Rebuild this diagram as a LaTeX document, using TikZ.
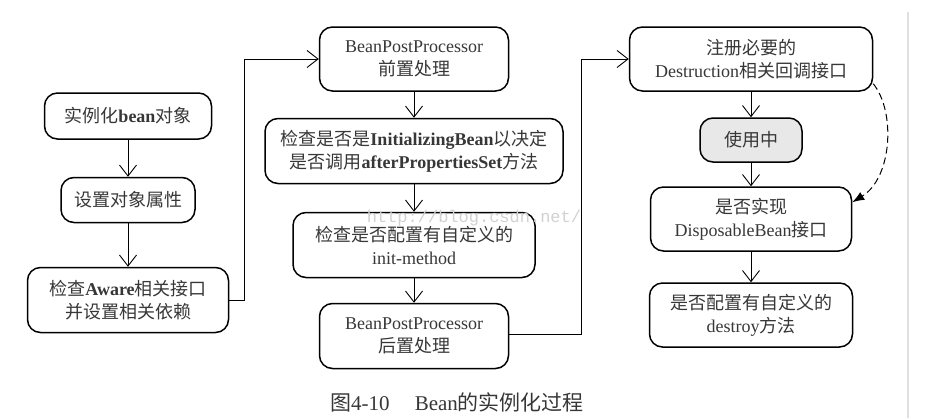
\documentclass[tikz,border=0pt]{standalone}
\usepackage{fontspec}
\setmainfont{Liberation Serif}
\setmonofont{Liberation Mono}
\newfontfamily\cjk{Noto Sans CJK SC}
\newcommand\cn[1]{{\cjk #1}}
\definecolor{stagetext}{RGB}{55,55,55}
\definecolor{inusefill}{RGB}{232,232,232}
\usetikzlibrary{arrows.meta,calc}

\begin{document}
\begin{tikzpicture}[x=1pt,y=-1pt,
  stage/.style={draw, line width=1.5pt, rounded corners=13pt, align=center,
    text=stagetext, inner sep=2pt, font=\fontsize{18}{23}\selectfont},
  flow/.style={line width=0.9pt, -{Straight Barb[length=11pt,width=17pt]}}]
  \useasboundingbox (0,0) rectangle (931,418);
  \draw[black!12, line width=2pt] (908,12) -- (908,418);

  % left column
  \node[stage, minimum width=167pt, minimum height=46pt] (inst) at (128,116) {\cn{实例化}\textbf{bean}\cn{对象}};
  \node[stage, minimum width=134pt, minimum height=45pt] (attr) at (128,200) {\cn{设置对象属性}};
  \node[stage, minimum width=201pt, minimum height=65pt] (aware) at (128,300) {\cn{检查}\textbf{Aware}\cn{相关接口}\\ \cn{并设置相关依赖}};

  % middle column
  \node[stage, minimum width=189pt, minimum height=64pt] (pre) at (414,59) {BeanPostProcessor\\ \cn{前置处理}};
  \node[stage, minimum width=298pt, minimum height=65pt] (initbean) at (414,151) {\cn{检查是否是}\textbf{InitializingBean}\cn{以决定}\\ \cn{是否调用}\textbf{afterPropertiesSet}\cn{方法}};
  \node[stage, minimum width=242pt, minimum height=65pt] (initmeth) at (414,245) {\cn{检查是否配置有自定义的}\\ init-method};
  \node[stage, minimum width=189pt, minimum height=65pt] (post) at (414,336) {BeanPostProcessor\\ \cn{后置处理}};

  % right column
  \node[stage, minimum width=243pt, minimum height=64pt] (destr) at (751,59) {\cn{注册必要的}\\ Destruction\cn{相关回调接口}};
  \node[stage, fill=inusefill, minimum width=102pt, minimum height=44pt] (inuse) at (751,140) {\cn{使用中}};
  \node[stage, minimum width=201pt, minimum height=64pt] (disp) at (751,219) {\cn{是否实现}\\ DisposableBean\cn{接口}};
  \node[stage, minimum width=203pt, minimum height=64pt] (destroy) at (751,315) {\cn{是否配置有自定义的}\\ destroy\cn{方法}};

  \draw[flow] (inst.south) -- (inst.south |- attr.north);
  \draw[flow] (attr.south) -- (attr.south |- aware.north);
  \draw[flow] (aware.east) -- ++(15,0) |- (pre.west);
  \draw[flow] (pre) -- (initbean);
  \draw[flow] (initbean) -- (initmeth);
  \draw[flow] (initmeth) -- (post);
  \draw[flow] ([yshift=2pt]post.east) -- ++(72,0) |- (destr.west);
  \draw[flow] (destr) -- (inuse);
  \draw[flow] (inuse) -- (disp);
  \draw[flow] (disp) -- (destroy);
  \draw[line width=1pt, dash pattern=on 7pt off 4pt, -{Latex[length=12pt,width=9pt]}]
    ([yshift=8pt]destr.south east) .. controls (896,112) and (892,178) .. ([yshift=-16pt]disp.north east);

  \node[font=\ttfamily\fontsize{17}{17}\selectfont, text=black!18] (mark) at (474,218) {http://blog.csdn.net/};
  \node[font=\fontsize{21}{24}\selectfont, text=stagetext] (caption) at (457,402) {\cn{图}4-10\hspace{1.2em}Bean\cn{的实例化过程}};
\end{tikzpicture}
\end{document}
